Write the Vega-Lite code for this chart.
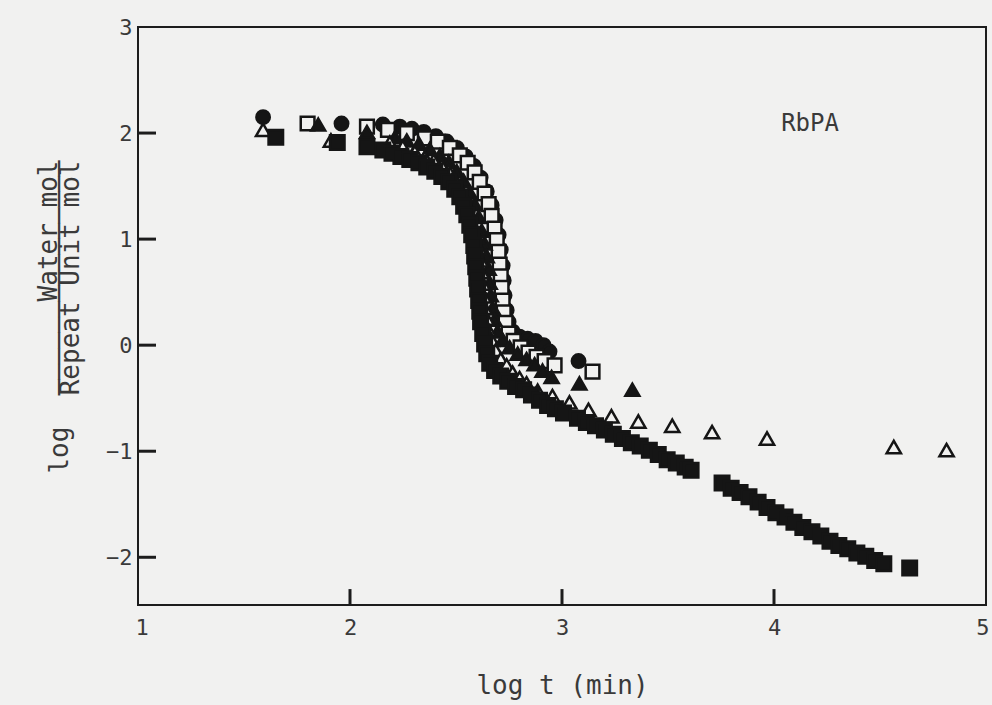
{
  "$schema": "https://vega.github.io/schema/vega-lite/v6.json",
  "width": 848,
  "height": 578,
  "autosize": {"type": "none"},
  "padding": {"left": 138, "top": 27, "right": 6, "bottom": 100},
  "background": "#f1f1f0",
  "config": {
    "view": {"stroke": "#1c1c1c", "strokeWidth": 2},
    "font": "DejaVu Sans Mono",
    "axis": {
      "domain": false,
      "grid": false,
      "ticks": false,
      "format": "d",
      "labelFont": "DejaVu Sans Mono",
      "labelColor": "#3a3a3a",
      "labelFontSize": 22,
      "labelOverlap": false,
      "titleFont": "DejaVu Sans Mono",
      "titleColor": "#3a3a3a",
      "titleFontSize": 26,
      "titleFontWeight": "normal"
    }
  },
  "datasets": {
    "sorption": [
      {"series": "filled circle", "logt": 1.59, "logw": 2.15},
      {"series": "filled circle", "logt": 1.96, "logw": 2.09},
      {"series": "filled circle", "logt": 2.155, "logw": 2.08},
      {"series": "filled circle", "logt": 2.235, "logw": 2.06},
      {"series": "filled circle", "logt": 2.292, "logw": 2.04},
      {"series": "filled circle", "logt": 2.348, "logw": 2.01},
      {"series": "filled circle", "logt": 2.405, "logw": 1.97},
      {"series": "filled circle", "logt": 2.456, "logw": 1.92},
      {"series": "filled circle", "logt": 2.504, "logw": 1.86},
      {"series": "filled circle", "logt": 2.546, "logw": 1.78},
      {"series": "filled circle", "logt": 2.584, "logw": 1.69},
      {"series": "filled circle", "logt": 2.616, "logw": 1.58},
      {"series": "filled circle", "logt": 2.645, "logw": 1.45},
      {"series": "filled circle", "logt": 2.668, "logw": 1.32},
      {"series": "filled circle", "logt": 2.687, "logw": 1.18},
      {"series": "filled circle", "logt": 2.701, "logw": 1.04},
      {"series": "filled circle", "logt": 2.711, "logw": 0.9},
      {"series": "filled circle", "logt": 2.72, "logw": 0.75},
      {"series": "filled circle", "logt": 2.725, "logw": 0.61},
      {"series": "filled circle", "logt": 2.729, "logw": 0.47},
      {"series": "filled circle", "logt": 2.739, "logw": 0.33},
      {"series": "filled circle", "logt": 2.748, "logw": 0.22},
      {"series": "filled circle", "logt": 2.767, "logw": 0.13},
      {"series": "filled circle", "logt": 2.8, "logw": 0.08},
      {"series": "filled circle", "logt": 2.838, "logw": 0.06},
      {"series": "filled circle", "logt": 2.875, "logw": 0.04},
      {"series": "filled circle", "logt": 2.913, "logw": 0.0},
      {"series": "filled circle", "logt": 2.941, "logw": -0.06},
      {"series": "filled circle", "logt": 3.078, "logw": -0.15},

      {"series": "open square", "logt": 1.8, "logw": 2.09},
      {"series": "open square", "logt": 2.08, "logw": 2.06},
      {"series": "open square", "logt": 2.179, "logw": 2.03},
      {"series": "open square", "logt": 2.268, "logw": 2.0},
      {"series": "open square", "logt": 2.353, "logw": 1.95},
      {"series": "open square", "logt": 2.414, "logw": 1.92},
      {"series": "open square", "logt": 2.471, "logw": 1.86},
      {"series": "open square", "logt": 2.518, "logw": 1.79},
      {"series": "open square", "logt": 2.555, "logw": 1.72},
      {"series": "open square", "logt": 2.588, "logw": 1.63},
      {"series": "open square", "logt": 2.612, "logw": 1.54},
      {"series": "open square", "logt": 2.635, "logw": 1.43},
      {"series": "open square", "logt": 2.654, "logw": 1.33},
      {"series": "open square", "logt": 2.668, "logw": 1.22},
      {"series": "open square", "logt": 2.682, "logw": 1.1},
      {"series": "open square", "logt": 2.692, "logw": 0.99},
      {"series": "open square", "logt": 2.701, "logw": 0.88},
      {"series": "open square", "logt": 2.706, "logw": 0.76},
      {"series": "open square", "logt": 2.711, "logw": 0.65},
      {"series": "open square", "logt": 2.715, "logw": 0.54},
      {"series": "open square", "logt": 2.72, "logw": 0.42},
      {"series": "open square", "logt": 2.725, "logw": 0.31},
      {"series": "open square", "logt": 2.734, "logw": 0.21},
      {"series": "open square", "logt": 2.748, "logw": 0.11},
      {"series": "open square", "logt": 2.772, "logw": 0.04},
      {"series": "open square", "logt": 2.805, "logw": -0.02},
      {"series": "open square", "logt": 2.842, "logw": -0.07},
      {"series": "open square", "logt": 2.88, "logw": -0.11},
      {"series": "open square", "logt": 2.918, "logw": -0.15},
      {"series": "open square", "logt": 2.965, "logw": -0.19},
      {"series": "open square", "logt": 3.144, "logw": -0.25},

      {"series": "filled triangle", "logt": 1.85, "logw": 2.08},
      {"series": "filled triangle", "logt": 2.08, "logw": 2.01},
      {"series": "filled triangle", "logt": 2.212, "logw": 1.96},
      {"series": "filled triangle", "logt": 2.268, "logw": 1.93},
      {"series": "filled triangle", "logt": 2.325, "logw": 1.9},
      {"series": "filled triangle", "logt": 2.376, "logw": 1.85},
      {"series": "filled triangle", "logt": 2.424, "logw": 1.79},
      {"series": "filled triangle", "logt": 2.466, "logw": 1.73},
      {"series": "filled triangle", "logt": 2.504, "logw": 1.64},
      {"series": "filled triangle", "logt": 2.536, "logw": 1.55},
      {"series": "filled triangle", "logt": 2.565, "logw": 1.44},
      {"series": "filled triangle", "logt": 2.588, "logw": 1.33},
      {"series": "filled triangle", "logt": 2.607, "logw": 1.21},
      {"series": "filled triangle", "logt": 2.621, "logw": 1.08},
      {"series": "filled triangle", "logt": 2.635, "logw": 0.96},
      {"series": "filled triangle", "logt": 2.645, "logw": 0.84},
      {"series": "filled triangle", "logt": 2.654, "logw": 0.72},
      {"series": "filled triangle", "logt": 2.659, "logw": 0.59},
      {"series": "filled triangle", "logt": 2.664, "logw": 0.47},
      {"series": "filled triangle", "logt": 2.673, "logw": 0.35},
      {"series": "filled triangle", "logt": 2.682, "logw": 0.24},
      {"series": "filled triangle", "logt": 2.696, "logw": 0.13},
      {"series": "filled triangle", "logt": 2.72, "logw": 0.05},
      {"series": "filled triangle", "logt": 2.753, "logw": -0.02},
      {"series": "filled triangle", "logt": 2.791, "logw": -0.08},
      {"series": "filled triangle", "logt": 2.833, "logw": -0.13},
      {"series": "filled triangle", "logt": 2.871, "logw": -0.18},
      {"series": "filled triangle", "logt": 2.908, "logw": -0.24},
      {"series": "filled triangle", "logt": 2.951, "logw": -0.3},
      {"series": "filled triangle", "logt": 3.082, "logw": -0.36},
      {"series": "filled triangle", "logt": 3.332, "logw": -0.42},

      {"series": "open triangle", "logt": 1.59, "logw": 2.03},
      {"series": "open triangle", "logt": 1.91, "logw": 1.93},
      {"series": "open triangle", "logt": 2.188, "logw": 1.91},
      {"series": "open triangle", "logt": 2.249, "logw": 1.87},
      {"series": "open triangle", "logt": 2.306, "logw": 1.82},
      {"series": "open triangle", "logt": 2.353, "logw": 1.77},
      {"series": "open triangle", "logt": 2.395, "logw": 1.74},
      {"series": "open triangle", "logt": 2.433, "logw": 1.69},
      {"series": "open triangle", "logt": 2.466, "logw": 1.64},
      {"series": "open triangle", "logt": 2.489, "logw": 1.58},
      {"series": "open triangle", "logt": 2.513, "logw": 1.5},
      {"series": "open triangle", "logt": 2.532, "logw": 1.42},
      {"series": "open triangle", "logt": 2.551, "logw": 1.32},
      {"series": "open triangle", "logt": 2.569, "logw": 1.23},
      {"series": "open triangle", "logt": 2.584, "logw": 1.12},
      {"series": "open triangle", "logt": 2.598, "logw": 1.02},
      {"series": "open triangle", "logt": 2.607, "logw": 0.92},
      {"series": "open triangle", "logt": 2.616, "logw": 0.8},
      {"series": "open triangle", "logt": 2.621, "logw": 0.69},
      {"series": "open triangle", "logt": 2.626, "logw": 0.58},
      {"series": "open triangle", "logt": 2.631, "logw": 0.46},
      {"series": "open triangle", "logt": 2.635, "logw": 0.35},
      {"series": "open triangle", "logt": 2.645, "logw": 0.25},
      {"series": "open triangle", "logt": 2.654, "logw": 0.14},
      {"series": "open triangle", "logt": 2.668, "logw": 0.05},
      {"series": "open triangle", "logt": 2.687, "logw": -0.05},
      {"series": "open triangle", "logt": 2.711, "logw": -0.13},
      {"series": "open triangle", "logt": 2.739, "logw": -0.19},
      {"series": "open triangle", "logt": 2.767, "logw": -0.26},
      {"series": "open triangle", "logt": 2.8, "logw": -0.31},
      {"series": "open triangle", "logt": 2.833, "logw": -0.36},
      {"series": "open triangle", "logt": 2.885, "logw": -0.43},
      {"series": "open triangle", "logt": 2.955, "logw": -0.48},
      {"series": "open triangle", "logt": 3.035, "logw": -0.54},
      {"series": "open triangle", "logt": 3.125, "logw": -0.61},
      {"series": "open triangle", "logt": 3.233, "logw": -0.67},
      {"series": "open triangle", "logt": 3.36, "logw": -0.72},
      {"series": "open triangle", "logt": 3.52, "logw": -0.76},
      {"series": "open triangle", "logt": 3.708, "logw": -0.82},
      {"series": "open triangle", "logt": 3.967, "logw": -0.88},
      {"series": "open triangle", "logt": 4.565, "logw": -0.96},
      {"series": "open triangle", "logt": 4.814, "logw": -0.99},

      {"series": "filled square", "logt": 1.65, "logw": 1.96},
      {"series": "filled square", "logt": 1.94, "logw": 1.91},
      {"series": "filled square", "logt": 2.08, "logw": 1.87},
      {"series": "filled square", "logt": 2.155, "logw": 1.84},
      {"series": "filled square", "logt": 2.198, "logw": 1.81},
      {"series": "filled square", "logt": 2.24, "logw": 1.78},
      {"series": "filled square", "logt": 2.282, "logw": 1.75},
      {"series": "filled square", "logt": 2.325, "logw": 1.72},
      {"series": "filled square", "logt": 2.362, "logw": 1.68},
      {"series": "filled square", "logt": 2.4, "logw": 1.64},
      {"series": "filled square", "logt": 2.433, "logw": 1.59},
      {"series": "filled square", "logt": 2.466, "logw": 1.54},
      {"series": "filled square", "logt": 2.494, "logw": 1.47},
      {"series": "filled square", "logt": 2.518, "logw": 1.4},
      {"series": "filled square", "logt": 2.536, "logw": 1.31},
      {"series": "filled square", "logt": 2.551, "logw": 1.23},
      {"series": "filled square", "logt": 2.565, "logw": 1.13},
      {"series": "filled square", "logt": 2.574, "logw": 1.04},
      {"series": "filled square", "logt": 2.584, "logw": 0.94},
      {"series": "filled square", "logt": 2.588, "logw": 0.84},
      {"series": "filled square", "logt": 2.593, "logw": 0.74},
      {"series": "filled square", "logt": 2.598, "logw": 0.63},
      {"series": "filled square", "logt": 2.602, "logw": 0.53},
      {"series": "filled square", "logt": 2.607, "logw": 0.42},
      {"series": "filled square", "logt": 2.612, "logw": 0.32},
      {"series": "filled square", "logt": 2.616, "logw": 0.22},
      {"series": "filled square", "logt": 2.626, "logw": 0.11},
      {"series": "filled square", "logt": 2.635, "logw": 0.01},
      {"series": "filled square", "logt": 2.645, "logw": -0.08},
      {"series": "filled square", "logt": 2.659, "logw": -0.17},
      {"series": "filled square", "logt": 2.682, "logw": -0.24},
      {"series": "filled square", "logt": 2.711, "logw": -0.29},
      {"series": "filled square", "logt": 2.744, "logw": -0.34},
      {"series": "filled square", "logt": 2.781, "logw": -0.39},
      {"series": "filled square", "logt": 2.819, "logw": -0.42},
      {"series": "filled square", "logt": 2.856, "logw": -0.47},
      {"series": "filled square", "logt": 2.894, "logw": -0.52},
      {"series": "filled square", "logt": 2.932, "logw": -0.57},
      {"series": "filled square", "logt": 2.969, "logw": -0.6},
      {"series": "filled square", "logt": 3.007, "logw": -0.64},
      {"series": "filled square", "logt": 3.073, "logw": -0.69},
      {"series": "filled square", "logt": 3.115, "logw": -0.73},
      {"series": "filled square", "logt": 3.158, "logw": -0.76},
      {"series": "filled square", "logt": 3.2, "logw": -0.8},
      {"series": "filled square", "logt": 3.242, "logw": -0.84},
      {"series": "filled square", "logt": 3.285, "logw": -0.88},
      {"series": "filled square", "logt": 3.327, "logw": -0.92},
      {"series": "filled square", "logt": 3.369, "logw": -0.95},
      {"series": "filled square", "logt": 3.412, "logw": -0.99},
      {"series": "filled square", "logt": 3.454, "logw": -1.03},
      {"series": "filled square", "logt": 3.496, "logw": -1.08},
      {"series": "filled square", "logt": 3.539, "logw": -1.11},
      {"series": "filled square", "logt": 3.581, "logw": -1.15},
      {"series": "filled square", "logt": 3.609, "logw": -1.18},
      {"series": "filled square", "logt": 3.755, "logw": -1.3},
      {"series": "filled square", "logt": 3.798, "logw": -1.35},
      {"series": "filled square", "logt": 3.84, "logw": -1.39},
      {"series": "filled square", "logt": 3.882, "logw": -1.43},
      {"series": "filled square", "logt": 3.925, "logw": -1.48},
      {"series": "filled square", "logt": 3.967, "logw": -1.53},
      {"series": "filled square", "logt": 4.009, "logw": -1.58},
      {"series": "filled square", "logt": 4.052, "logw": -1.62},
      {"series": "filled square", "logt": 4.094, "logw": -1.67},
      {"series": "filled square", "logt": 4.136, "logw": -1.72},
      {"series": "filled square", "logt": 4.179, "logw": -1.76},
      {"series": "filled square", "logt": 4.221, "logw": -1.8},
      {"series": "filled square", "logt": 4.264, "logw": -1.85},
      {"series": "filled square", "logt": 4.306, "logw": -1.89},
      {"series": "filled square", "logt": 4.348, "logw": -1.92},
      {"series": "filled square", "logt": 4.391, "logw": -1.96},
      {"series": "filled square", "logt": 4.433, "logw": -1.99},
      {"series": "filled square", "logt": 4.475, "logw": -2.03},
      {"series": "filled square", "logt": 4.518, "logw": -2.06},
      {"series": "filled square", "logt": 4.64, "logw": -2.1}
    ],
    "xTicks": [
      {"logt": 2}, {"logt": 3}, {"logt": 4}
    ],
    "yTicks": [
      {"logw": -2}, {"logw": -1}, {"logw": 0}, {"logw": 1}, {"logw": 2}
    ],
    "labels": [
      {"logt": 4.17, "logw": 2.09, "text": "RbPA"}
    ]
  },
  "layer": [
    {
      "data": {"name": "sorption"},
      "mark": {"type": "point", "opacity": 1, "fillOpacity": 1, "stroke": "#151515", "strokeWidth": 2.5},
      "encoding": {
        "x": {
          "field": "logt",
          "type": "quantitative",
          "scale": {"domain": [1, 5], "nice": false, "zero": false},
          "axis": {
            "values": [1, 2, 3, 4, 5],
            "title": "log t (min)",
            "labelPadding": 12,
            "labelFlush": true,
            "labelFlushOffset": 3,
            "titlePadding": 34
          }
        },
        "y": {
          "field": "logw",
          "type": "quantitative",
          "scale": {"domain": [-2.45, 3], "nice": false, "zero": false},
          "axis": {
            "values": [-2, -1, 0, 1, 2, 3],
            "labelPadding": 6,
            "labelFlush": false,
            "title": ["Water mol", "log\u00a0\u00a0───────────────", "Repeat Unit mol"],
            "titleAlign": "right",
            "titleBaseline": "middle",
            "titleLineHeight": 11,
            "titleX": -90,
            "titleY": 133
          }
        },
        "shape": {
          "field": "series",
          "type": "nominal",
          "legend": null,
          "scale": {
            "domain": ["filled circle", "open square", "filled triangle", "open triangle", "filled square"],
            "range": ["circle", "square", "triangle-up", "triangle-up", "square"]
          }
        },
        "fill": {
          "field": "series",
          "type": "nominal",
          "legend": null,
          "scale": {
            "domain": ["filled circle", "open square", "filled triangle", "open triangle", "filled square"],
            "range": ["#151515", "#f1f1f0", "#151515", "#f1f1f0", "#151515"]
          }
        },
        "size": {
          "field": "series",
          "type": "nominal",
          "legend": null,
          "scale": {
            "domain": ["filled circle", "open square", "filled triangle", "open triangle", "filled square"],
            "range": [180, 210, 260, 260, 210]
          }
        }
      }
    },
    {
      "data": {"name": "xTicks"},
      "mark": {"type": "rule", "color": "#1c1c1c", "strokeWidth": 3},
      "encoding": {
        "x": {"field": "logt", "type": "quantitative"},
        "y": {"datum": -2.45},
        "y2": {"datum": -2.3}
      }
    },
    {
      "data": {"name": "yTicks"},
      "mark": {"type": "rule", "color": "#1c1c1c", "strokeWidth": 3},
      "encoding": {
        "y": {"field": "logw", "type": "quantitative"},
        "x": {"datum": 1},
        "x2": {"datum": 1.085}
      }
    },
    {
      "data": {"name": "labels"},
      "mark": {"type": "text", "font": "DejaVu Sans Mono", "fontSize": 24, "color": "#3a3a3a", "align": "center", "baseline": "middle"},
      "encoding": {
        "x": {"field": "logt", "type": "quantitative"},
        "y": {"field": "logw", "type": "quantitative"},
        "text": {"field": "text"}
      }
    }
  ]
}
